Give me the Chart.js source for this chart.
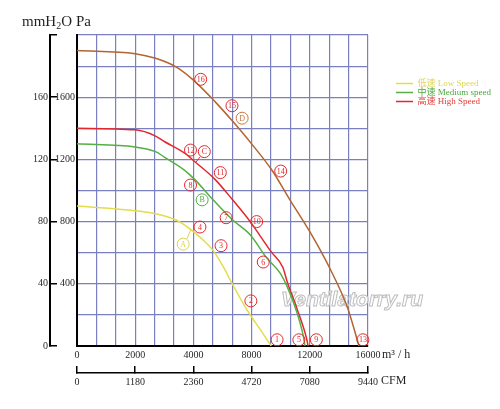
<!DOCTYPE html>
<html>
<head>
<meta charset="utf-8">
<title>Fan curve</title>
<script src="https://cdn.jsdelivr.net/npm/chart.js@4.4.1/dist/chart.umd.min.js"></script>
<style>
  html, body { margin: 0; padding: 0; background: #fff; }
  #wrap { width: 500px; height: 409px; }
</style>
</head>
<body>
<div id="wrap"><canvas id="chart"></canvas></div>
<script>
// axis labels (the flow axis is not linear: each labelled step is the same width)
const flowTicks = [0, 2000, 4000, 8000, 12000, 16000];   // m³/h
const cfmTicks = [0, 1180, 2360, 4720, 7080, 9440];      // CFM

// curves (flow in m³/h, pressure in Pa)
const lowFlow = [0, 2000, 2700, 3400, 3800, 4450, 5350, 6050, 6700, 7700, 8600, 9350];
const lowPa = [900, 870, 850, 810, 765, 700, 615, 510, 395, 230, 105, 0];

const midFlow = [0, 2000, 2700, 3000, 3700, 4100, 5350, 6700, 7900, 9050, 9950, 10450, 11100, 11550, 11670];
const midPa = [1300, 1280, 1250, 1215, 1130, 1070, 940, 810, 715, 565, 470, 380, 220, 65, 0];

const highFlow = [0, 2000, 2700, 3000, 3700, 4100, 5500, 6650, 7900, 9350, 10150, 10450, 11100, 11800, 11880];
const highPa = [1400, 1390, 1350, 1315, 1240, 1185, 1070, 945, 800, 605, 505, 412, 245, 40, 0];

const topFlow = [0, 2000, 2700, 3400, 4000, 5500, 6700, 8000, 9400, 10600, 12000, 13400, 14600, 15380];
const topPa = [1900, 1880, 1850, 1795, 1710, 1570, 1445, 1300, 1130, 945, 735, 495, 245, 0];

// circled point numbers
const markerLabels = ['16', '15', 'D', '14', '12', 'C', '11', '8', 'B', '7', '10', '4', 'A', '3', '6', '2', '1', '5', '9', '13'];
const markerFlow = [4500, 6650, 7350, 10000, 3900, 4750, 5850, 3900, 4600, 6250, 8350, 4450, 3650, 5900, 8800, 7950, 9750, 11250, 12450, 15650];
const markerPa = [1715, 1545, 1465, 1125, 1260, 1250, 1115, 1035, 940, 825, 800, 765, 655, 645, 540, 290, 40, 40, 40, 40];

// little leader lines from A and C to their curves
const leaderAFlow = [3780, 3920];
const leaderAPa = [690, 752];
const leaderCFlow = [4180, 4450];
const leaderCPa = [1183, 1215];

const GRID = '#7a80bf';
const YELLOW = '#e4dc4a';
const GREEN = '#55b043';
const RED = '#e2282c';
const BROWN = '#b4642e';
const INK = '#231f20';
const SERIF = '"Liberation Serif", "Times New Roman", serif';

// piecewise scale: every segment between two labels gets the same width
const scaleBreaks = { x: flowTicks, x2: cfmTicks };
const scaleSubdiv = { x: 3, x2: 1 };

class SegmentScale extends Chart.LinearScale {
  buildTicks() {
    const b = scaleBreaks[this.id];
    const sub = scaleSubdiv[this.id];
    const ticks = [];
    for (let i = 0; i < b.length - 1; i++) {
      for (let k = 0; k < sub; k++) {
        ticks.push({ value: b[i] + k * (b[i + 1] - b[i]) / sub });
      }
    }
    ticks.push({ value: b[b.length - 1] });
    this.start = this.min;
    this.end = this.max;
    return ticks;
  }
  getPixelForValue(value) {
    const b = scaleBreaks[this.id];
    const n = b.length - 1;
    let i = 0;
    while (i < n - 1 && value > b[i + 1]) i++;
    const t = (i + (value - b[i]) / (b[i + 1] - b[i])) / n;
    return this.getPixelForDecimal(t);
  }
  getValueForPixel(pixel) {
    const b = scaleBreaks[this.id];
    const n = b.length - 1;
    const t = this.getDecimalForPixel(pixel) * n;
    const i = Math.min(n - 1, Math.max(0, Math.floor(t)));
    return b[i] + (t - i) * (b[i + 1] - b[i]);
  }
}
SegmentScale.id = 'segment';
SegmentScale.defaults = Chart.LinearScale.defaults;
Chart.register(SegmentScale);

Chart.defaults.font.family = SERIF;
Chart.defaults.color = INK;

const letterColors = { A: '#dcd44a', B: '#4fae45', C: RED, D: '#c9783e' };
const markerColor = (lbl) => letterColors[lbl] || RED;
const legendTextColors = ['#ddd55a', '#4aa83e', '#e0403a'];

function curve(label, flow, pa, color) {
  return {
    type: 'line',
    label: label,
    data: flow.map((f, i) => ({ x: f, y: pa[i] })),
    borderColor: color,
    backgroundColor: color,
    borderWidth: 1.5,
    pointRadius: 0,
    cubicInterpolationMode: 'monotone',
    xAxisID: 'x',
    yAxisID: 'y'
  };
}

const extras = {
  id: 'extras',
  beforeDatasetsDraw(chart) {
    const { ctx, chartArea } = chart;
    ctx.save();
    ctx.font = 'italic bold 21px "Liberation Sans", Arial, sans-serif';
    ctx.textAlign = 'center';
    ctx.textBaseline = 'middle';
    ctx.lineWidth = 1;
    ctx.fillStyle = 'rgba(255,255,255,0.85)';
    ctx.strokeStyle = '#bdbdbd';
    const wx = chartArea.right - 16;
    const wy = chartArea.bottom - 46;
    ctx.fillText('Ventilatorry.ru', wx, wy);
    ctx.strokeText('Ventilatorry.ru', wx, wy);
    ctx.restore();
  },
  afterDatasetsDraw(chart) {
    const { ctx } = chart;
    const idx = chart.data.datasets.findIndex(d => d.id === 'markers');
    const meta = chart.getDatasetMeta(idx);
    ctx.save();
    ctx.font = '8px ' + SERIF;
    ctx.textAlign = 'center';
    ctx.textBaseline = 'middle';
    meta.data.forEach((pt, i) => {
      ctx.fillStyle = markerColor(markerLabels[i]);
      ctx.fillText(markerLabels[i], pt.x, pt.y + 0.5);
    });
    ctx.restore();
  },
  afterDraw(chart) {
    const { ctx } = chart;
    const xs = chart.scales.x;
    const x2 = chart.scales.x2;
    const y2 = chart.scales.y2;
    ctx.save();
    ctx.fillStyle = INK;
    ctx.textAlign = 'left';
    ctx.textBaseline = 'middle';
    ctx.font = '12px ' + SERIF;
    ctx.fillText('m³ / h', xs.right + 14, xs.top + 9);
    ctx.fillText('CFM', x2.right + 13, x2.top + 8);

    // pressure units over the two left axes
    let tx = y2.left + 12;
    const ty = 26;
    ctx.textBaseline = 'alphabetic';
    ctx.font = '15px ' + SERIF;
    ctx.fillText('mmH', tx, ty);
    tx += ctx.measureText('mmH').width;
    ctx.font = '10px ' + SERIF;
    ctx.fillText('2', tx, ty + 3);
    tx += ctx.measureText('2').width;
    ctx.font = '15px ' + SERIF;
    ctx.fillText('O', tx, ty);
    tx += ctx.measureText('O').width + 4;
    ctx.fillText('Pa', tx, ty);
    ctx.restore();
  }
};

new Chart(document.getElementById('chart'), {
  type: 'line',
  data: {
    datasets: [
      curve('低速 Low Speed', lowFlow, lowPa, YELLOW),
      curve('中速 Medium speed', midFlow, midPa, GREEN),
      curve('高速 High Speed', highFlow, highPa, RED),
      curve('', topFlow, topPa, BROWN),
      {
        id: 'markers',
        type: 'line',
        label: '',
        data: markerFlow.map((f, i) => ({ x: f, y: markerPa[i] })),
        showLine: false,
        pointRadius: 6,
        pointBorderWidth: 1,
        pointBackgroundColor: 'rgba(255,255,255,0)',
        pointBorderColor: markerLabels.map(markerColor),
        clip: false,
        order: -1,
        xAxisID: 'x',
        yAxisID: 'y'
      },
      {
        type: 'line', label: '',
        data: leaderAFlow.map((f, i) => ({ x: f, y: leaderAPa[i] })),
        borderColor: '#dcd44a', borderWidth: 1, pointRadius: 0,
        xAxisID: 'x', yAxisID: 'y'
      },
      {
        type: 'line', label: '',
        data: leaderCFlow.map((f, i) => ({ x: f, y: leaderCPa[i] })),
        borderColor: RED, borderWidth: 1, pointRadius: 0,
        xAxisID: 'x', yAxisID: 'y'
      }
    ]
  },
  options: {
    animation: false,
    responsive: true,
    maintainAspectRatio: false,
    layout: { padding: { left: 10, top: 35, right: 0, bottom: 16 } },
    plugins: {
      tooltip: { enabled: false },
      legend: {
        position: 'right',
        align: 'start',
        maxWidth: 104,
        title: { display: true, text: '', padding: { top: 43, bottom: 0 }, font: { size: 1, lineHeight: 1 } },
        labels: {
          boxWidth: 17,
          boxHeight: 1.5,
          padding: 0,
          font: { size: 9, family: SERIF + ', "Noto Sans CJK SC"' },
          generateLabels(chart) {
            return chart.data.datasets.slice(0, 3).map((ds, i) => ({
              text: ds.label,
              fillStyle: ds.borderColor,
              strokeStyle: ds.borderColor,
              lineWidth: 0,
              fontColor: legendTextColors[i],
              hidden: false,
              datasetIndex: i
            }));
          }
        }
      }
    },
    scales: {
      x: {
        type: 'segment',
        position: 'bottom',
        weight: 0,
        min: 0,
        max: 16000,
        grid: { color: GRID, lineWidth: 1.2, drawTicks: false },
        border: { color: '#000', width: 2 },
        ticks: {
          autoSkip: false, maxRotation: 0, padding: 3,
          font: { size: 10 },
          callback: (v) => flowTicks.includes(v) ? String(v) : ''
        },
        afterFit(s) { s.height = 27; }
      },
      x2: {
        type: 'segment',
        position: 'bottom',
        weight: 1,
        min: 0,
        max: 9440,
        grid: { drawOnChartArea: false, drawTicks: true, tickLength: -7, color: '#000', lineWidth: 1.5 },
        border: { color: '#000', width: 1.5 },
        ticks: {
          autoSkip: false, maxRotation: 0, padding: 10,
          font: { size: 10 },
          callback: (v) => String(v)
        },
        afterFit(s) { s.height = 20; }
      },
      y: {
        type: 'linear',
        position: 'left',
        weight: 0,
        min: 0,
        max: 2000,
        grid: { color: GRID, lineWidth: 1.2, drawTicks: false },
        border: { color: '#000', width: 2 },
        ticks: {
          stepSize: 200, autoSkip: false, padding: 2,
          font: { size: 10 },
          callback: (v) => (v > 0 && v < 2000 && v % 400 === 0) ? String(v) : ''
        },
        afterFit(s) { s.width = 27; }
      },
      y2: {
        type: 'linear',
        position: 'left',
        weight: 1,
        min: 0,
        max: 200,
        grid: { drawOnChartArea: false, drawTicks: true, tickLength: -7, color: '#000', lineWidth: 1.5 },
        border: { color: '#000', width: 2 },
        ticks: {
          stepSize: 40, autoSkip: false, padding: 9,
          font: { size: 10 },
          callback: (v) => v < 200 ? String(v) : ''
        },
        afterFit(s) { s.width = 40; }
      },
      gap: {
        type: 'linear',
        position: 'right',
        display: true,
        grid: { display: false },
        border: { display: false },
        ticks: { display: false },
        afterFit(s) { s.width = 28; }
      }
    }
  },
  plugins: [extras]
});
</script>
</body>
</html>
